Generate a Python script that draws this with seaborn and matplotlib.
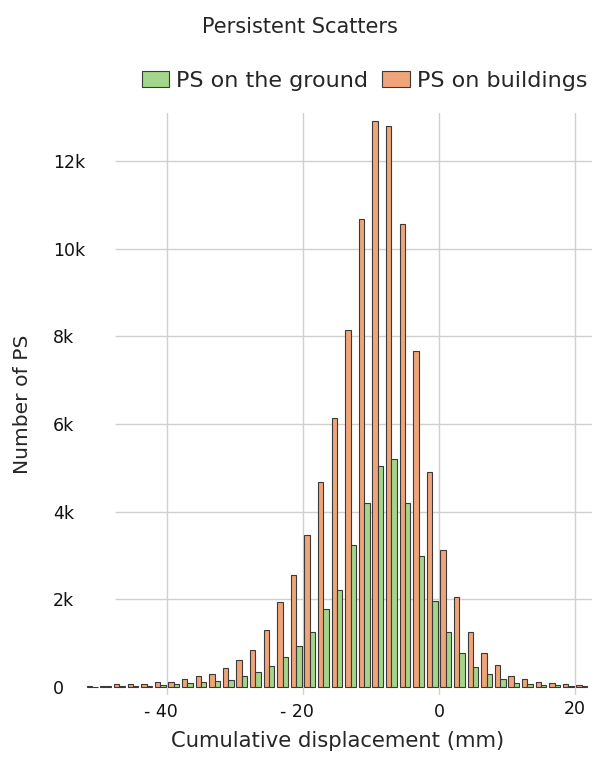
import numpy as np
import pandas as pd
import matplotlib
matplotlib.use("Agg")
import matplotlib.pyplot as plt
import matplotlib.transforms as mtransforms
import seaborn as sns

# Bin centers (mm), 2 mm wide bins
centers = [-51, -49, -47, -45, -43, -41, -39, -37, -35, -33, -31, -29, -27, -25,
           -23, -21, -19, -17, -15, -13, -11, -9, -7, -5, -3, -1, 1, 3, 5, 7, 9,
           11, 13, 15, 17, 19, 21]
ps_buildings = [30, 30, 60, 60, 65, 110, 120, 180, 240, 300, 435, 608, 845, 1295,
                1932, 2550, 3462, 4683, 6148, 8153, 10682, 12906, 12801, 10569, 7674,
                4909, 3122, 2053, 1258, 780, 500, 258, 190, 121, 91, 68, 38]
ps_ground = [10, 15, 20, 25, 30, 50, 60, 80, 106, 144, 167, 258, 341, 477,
             689, 930, 1260, 1770, 2224, 3244, 4203, 5040, 5206, 4203, 2982,
             1962, 1247, 765, 462, 295, 174, 98, 76, 53, 38, 30, 23]
series_names = ["PS on the ground", "PS on buildings"]
xtick_values = [-40, -20, 0, 20]
xtick_labels = ["- 40", "- 20", "0", "20"]
ytick_values = [0, 2000, 4000, 6000, 8000, 10000, 12000]
ytick_labels = ["0", "2k", "4k", "6k", "8k", "10k", "12k"]

colors = {"PS on the ground": "#A3D68A", "PS on buildings": "#F0A479"}

df = pd.DataFrame({
    "disp": centers * 2,
    "count": ps_buildings + ps_ground,
    "type": ["PS on buildings"] * len(centers) + ["PS on the ground"] * len(centers),
})

sns.set_style("white")
plt.rcParams["font.family"] = ["DejaVu Sans"]

fig = plt.figure(figsize=(5.95, 7.57), dpi=100)
ax = fig.add_axes([0.1395, 0.0819, 0.8555, 0.7688])

sns.barplot(data=df, x="disp", y="count", hue="type",
            hue_order=["PS on buildings", "PS on the ground"],
            palette=colors, native_scale=True, width=0.8, dodge=True,
            errorbar=None, edgecolor="#3a3a3a", linewidth=0.8,
            saturation=1, legend=True, ax=ax, zorder=3)

handles, labels = ax.get_legend_handles_labels()
ax.legend_.remove()
order = [labels.index(n) for n in series_names]
fig.legend([handles[i] for i in order], [labels[i] for i in order],
           loc="center", bbox_to_anchor=(0.6126, 0.893), ncol=2, frameon=False,
           fontsize=16, handlelength=1.25, handleheight=0.75, handletextpad=0.3,
           columnspacing=0.65, borderpad=0.2)

ax.set_xlim(-52.35, 22.5)
ax.set_ylim(-183, 13095)

# grid
for v in xtick_values:
    ax.axvline(v, color="#d0d0d0", linewidth=1.0, zorder=0)
ax.hlines(ytick_values[1:], -47.6, 22.5, color="#d0d0d0", linewidth=1.0, zorder=0)

ax.set_xticks(xtick_values)
ax.set_xticklabels(xtick_labels)
ax.set_yticks(ytick_values)
ax.set_yticklabels(ytick_labels, ha="left")
ax.tick_params(axis="both", length=0, labelsize=12.5, colors="#111111")
ax.tick_params(axis="y", pad=21.6)
ax.tick_params(axis="x", pad=6)
for s in ax.spines.values():
    s.set_visible(False)

# the "- " prefix hangs to the left of the tick; the last label sits a bit higher
for lab in ax.get_xticklabels():
    txt = lab.get_text()
    if txt.startswith("-"):
        lab.set_transform(lab.get_transform() +
                          mtransforms.ScaledTranslation(-0.065, 0, fig.dpi_scale_trans))
    elif txt == "20":
        lab.set_transform(lab.get_transform() +
                          mtransforms.ScaledTranslation(0, 0.03, fig.dpi_scale_trans))

ax.set_xlabel("Cumulative displacement (mm)", fontsize=15.2, labelpad=7)
ax.set_ylabel("Number of PS", fontsize=14.6)
ax.yaxis.set_label_coords(-0.1, 0.5)

fig.text(0.504, 1 - 27 / 757, "Persistent Scatters", ha="center", va="center",
         fontsize=15)

fig.savefig("out.png", dpi=100)
